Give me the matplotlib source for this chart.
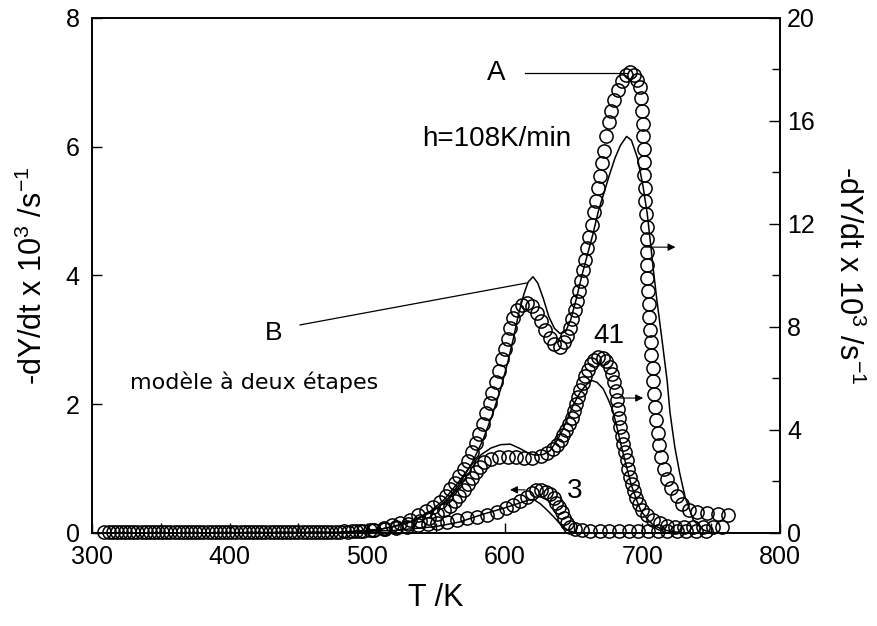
import matplotlib
matplotlib.use('Agg')
import matplotlib.pyplot as plt
from matplotlib.ticker import MultipleLocator

# Curve A, h=108 K/min (right axis) - measured points
a_exp_t = [309, 318, 327, 336, 345, 354, 363, 372, 381, 390, 399, 408, 417, 426, 435,
           444, 453, 462, 471, 480, 489,
           497, 505, 512, 518, 524, 531, 537, 543, 548, 553, 557, 560.5, 564, 567, 570,
           573, 576, 579, 581.5, 584, 586.5, 589, 591, 593.5, 596, 598, 600, 602, 604,
           606, 609, 612.5, 616, 620, 623.5, 626.5, 629, 632.5, 636, 640,
           643, 645.5, 647.5, 649, 651, 652.5, 654, 655.5, 657, 658.5, 660, 661.5, 663,
           664.5, 666, 667.5, 669, 670.5, 672, 673.5, 675.5, 677.5, 679.5, 682, 685, 688,
           691, 694, 696, 698,
           699, 700, 700.5, 700.5, 701, 701, 701.5, 702, 702, 702.5, 703, 703, 703.5,
           703.5, 703.5, 704, 704.5, 705, 705.5, 706, 706.5, 707.5, 708, 708.5, 709, 710,
           711, 712, 713.5, 715.5, 718, 721, 725, 729, 734, 740, 747, 755, 762]
a_exp_y = [0.02, 0.02, 0.02, 0.02, 0.02, 0.02, 0.02, 0.02, 0.02, 0.02, 0.02, 0.02, 0.02,
           0.02, 0.02, 0.02, 0.02, 0.03, 0.03, 0.04, 0.06,
           0.08, 0.13, 0.2, 0.3, 0.4, 0.52, 0.68, 0.85, 1.02, 1.2, 1.45, 1.7, 1.95, 2.2,
           2.48, 2.8, 3.15, 3.5, 3.85, 4.25, 4.65, 5.05, 5.45, 5.85, 6.3, 6.75, 7.15, 7.55,
           7.95, 8.35, 8.65, 8.85, 8.93, 8.8, 8.55, 8.25, 7.9, 7.58, 7.32, 7.22,
           7.4, 7.65, 7.95, 8.3, 8.66, 9.0, 9.4, 9.8, 10.2, 10.6, 11.05, 11.5, 11.95,
           12.45, 12.9, 13.4, 13.85, 14.35, 14.85, 15.4, 15.95, 16.4, 16.8, 17.2, 17.55,
           17.8, 17.9, 17.8, 17.6, 17.3,
           16.9, 16.4, 15.9, 15.4, 14.9, 14.4, 13.9, 13.4, 12.9, 12.4, 11.9, 11.4, 10.9,
           10.4, 9.9, 9.4, 8.9, 8.4, 7.9, 7.4, 6.9, 6.4, 5.9, 5.4, 4.9, 4.4, 3.9, 3.4,
           2.95, 2.5, 2.1, 1.75, 1.42, 1.12, 0.9, 0.8, 0.78, 0.74, 0.7]

# Curve A - two-step model
a_mod_t = [310, 480, 505, 520, 535, 548, 558, 567, 576, 584, 591, 597, 602, 606, 610,
           614, 617, 620.5, 624, 628, 632, 636, 640, 644, 648, 652, 656, 660, 664, 668,
           672, 676, 680, 684, 688.5, 692, 696.5, 700.5, 703.5, 706, 708, 710.5, 714, 718,
           720, 723.5, 727, 731, 737, 744, 750, 760]
a_mod_y = [0, 0.02, 0.1, 0.25, 0.5, 0.85, 1.3, 1.9, 2.7, 3.6, 4.6, 5.6, 6.6, 7.5, 8.5,
           9.3, 9.75, 9.95, 9.7, 9.1, 8.4, 7.95, 7.75, 7.8, 8.3, 9.1, 10.0, 10.8, 11.6,
           12.5, 13.2, 13.9, 14.55, 15.05, 15.4, 15.25, 14.55, 13.45, 12.4, 11.2, 10.2,
           9.05, 7.6, 5.9, 4.7, 3.35, 2.35, 1.4, 0.5, 0.12, 0.02, 0]

# Curve 41 (right axis) - measured points
c41_exp_t = [312, 321, 330, 339, 348, 357, 366, 375, 384, 393, 402, 411, 420, 429, 438,
             447, 456, 465, 474, 483, 492,
             502, 512, 521, 530, 538, 545, 551, 556, 560, 563.5, 567, 570, 573, 576, 579,
             582, 585, 590, 596, 602, 608, 614, 620, 626, 631, 635, 638, 640.5, 642.5,
             644.5, 646.5, 648.5, 650.5, 652, 653.5, 655, 656.5, 658.5, 660.5, 662.5, 665,
             668, 671, 673.8, 676.2, 678, 679.5, 680.6, 681.5, 682.3, 683.1, 684, 685,
             686.2, 687.3, 688.5, 689.7, 690.9, 692.2, 693.6, 695.2, 697.2, 700, 703.5,
             707.5, 712.5, 718, 724, 730.5, 737, 744, 751, 758]
c41_exp_y = [0.02, 0.02, 0.02, 0.02, 0.02, 0.02, 0.02, 0.02, 0.02, 0.02, 0.02, 0.02,
             0.02, 0.02, 0.02, 0.02, 0.02, 0.03, 0.04, 0.06, 0.08,
             0.11, 0.17, 0.25, 0.35, 0.47, 0.6, 0.74, 0.88, 1.05, 1.25, 1.45, 1.67, 1.9,
             2.15, 2.38, 2.58, 2.74, 2.88, 2.94, 2.95, 2.95, 2.93, 2.93, 3.0, 3.11, 3.26,
             3.42, 3.6, 3.8, 4.0, 4.22, 4.46, 4.72, 5.0, 5.28, 5.55, 5.82, 6.08, 6.33,
             6.55, 6.72, 6.83, 6.8, 6.66, 6.45, 6.18, 5.85, 5.5, 5.15, 4.8, 4.46, 4.12,
             3.78, 3.45, 3.14, 2.82, 2.5, 2.19, 1.9, 1.62, 1.36, 1.12, 0.88, 0.68, 0.52,
             0.38, 0.29, 0.25, 0.23, 0.22, 0.22, 0.22, 0.22]

# Curve 41 - two-step model
c41_mod_t = [310, 480, 510, 530, 545, 556, 566, 575, 583, 590, 597, 604, 611, 617, 622,
             628, 633, 638, 642, 646, 650, 654.7, 659, 663.5, 667, 671.5, 675, 678.5,
             681.5, 685, 688.8, 692, 696, 699, 703.4, 708, 713, 720, 730, 745]
c41_mod_y = [0, 0.02, 0.15, 0.4, 0.8, 1.3, 1.95, 2.6, 3.05, 3.3, 3.43, 3.45, 3.28, 3.1,
             3.02, 3.05, 3.2, 3.6, 4.0, 4.5, 5.0, 5.45, 5.75, 5.92, 5.85, 5.6, 5.2, 4.75,
             4.1, 3.3, 2.5, 1.85, 1.25, 0.85, 0.55, 0.3, 0.18, 0.06, 0.01, 0]

# Curve 3 (left axis) - measured points
c3_exp_t = [315, 324, 333, 342, 351, 360, 369, 378, 387, 396, 405, 414, 423, 432, 441,
            450, 459, 468, 477, 486,
            495, 504, 513, 521, 529, 537, 544, 551, 558, 565, 572.5, 580, 587, 594, 601,
            606, 611, 616, 619.5, 623, 626.5, 630, 633, 635.5, 637.5, 639.5, 641.3, 643,
            645, 647.5, 651, 656, 662, 669, 676, 683, 690, 697, 704, 711, 718, 725, 732,
            739, 746]
c3_exp_y = [0.01, 0.01, 0.01, 0.01, 0.01, 0.01, 0.01, 0.01, 0.01, 0.01, 0.01, 0.01,
            0.01, 0.01, 0.01, 0.01, 0.015, 0.015, 0.02, 0.02,
            0.03, 0.045, 0.06, 0.08, 0.1, 0.12, 0.14, 0.16, 0.175, 0.2, 0.225, 0.25, 0.28,
            0.33, 0.39, 0.44, 0.5, 0.56, 0.62, 0.66, 0.67, 0.64, 0.6, 0.54, 0.47, 0.4,
            0.32, 0.24, 0.16, 0.1, 0.06, 0.04, 0.035, 0.03, 0.03, 0.03, 0.03, 0.03, 0.03,
            0.03, 0.03, 0.03, 0.03, 0.03, 0.03]

# Curve 3 - two-step model
c3_mod_t = [310, 480, 520, 550, 567, 584, 600, 610, 617, 621, 626, 631, 636, 641, 646,
            652, 700, 750]
c3_mod_y = [0, 0.01, 0.04, 0.1, 0.17, 0.29, 0.39, 0.46, 0.51, 0.52, 0.45, 0.35, 0.24,
            0.12, 0.04, 0, 0, 0]

Y_LABEL = r'-dY/dt x 10$^3$ /s$^{-1}$'


def main():
	plt.rcParams['font.family'] = ['Liberation Sans', 'DejaVu Sans']
	plt.rcParams['mathtext.default'] = 'regular'
	fig = plt.figure(figsize=(8.78, 6.26), dpi=100)
	ax = fig.add_axes([0.1048, 0.1486, 0.7836, 0.8227])
	ax2 = ax.twinx()
	SetupAxes(ax, ax2)
	DoCurves(ax, ax2)
	DoNotes(ax, ax2)
	fig.savefig('out.png', dpi=100)


def SetupAxes(ax, ax2):
	ax.set_xlim(300, 800)
	ax.set_ylim(0, 8)
	ax2.set_ylim(0, 20)
	ax.xaxis.set_major_locator(MultipleLocator(100))
	ax.xaxis.set_minor_locator(MultipleLocator(50))
	ax.yaxis.set_major_locator(MultipleLocator(2))
	ax2.yaxis.set_major_locator(MultipleLocator(4))
	ax2.yaxis.set_minor_locator(MultipleLocator(2))
	ax.tick_params(axis='x', which='both', direction='in', length=7, width=1,
	               top=False, labelsize=18, pad=9)
	ax.tick_params(axis='y', which='both', direction='in', length=7, width=1,
	               right=False, labelsize=18, pad=9)
	ax2.tick_params(axis='y', which='major', direction='in', length=8, width=1,
	                labelsize=18, pad=5)
	ax2.tick_params(axis='y', which='minor', direction='in', length=6, width=1)
	for a in (ax, ax2):
		for s in a.spines.values():
			s.set_linewidth(1.2)
	ax.set_xlabel('T /K', fontsize=22, labelpad=10)
	ax.set_ylabel(Y_LABEL, fontsize=22, labelpad=12)
	ax2.set_ylabel(Y_LABEL, fontsize=22, rotation=270, va='bottom', labelpad=12)


def DoCurves(ax, ax2):
	circles = dict(ls='none', marker='o', ms=9.5, mfc='none', mec='k', mew=1.1,
	               clip_on=False)
	model = dict(color='k', lw=1.1)
	ax.plot(c3_exp_t, c3_exp_y, **circles)
	ax.plot(c3_mod_t, c3_mod_y, **model)
	ax2.plot(c41_exp_t, c41_exp_y, **circles)
	ax2.plot(c41_mod_t, c41_mod_y, **model)
	ax2.plot(a_exp_t, a_exp_y, **circles)
	ax2.plot(a_mod_t, a_mod_y, **model)


def DoNotes(ax, ax2):
	arrow = dict(arrowstyle='-|>', color='k', lw=0.8, mutation_scale=11,
	             shrinkA=0, shrinkB=0)
	# which axis each curve belongs to
	ax2.annotate('', xy=(724, 11.1), xytext=(702, 11.1), arrowprops=arrow)
	ax2.annotate('', xy=(700.5, 5.24), xytext=(683.7, 5.24), arrowprops=arrow)
	ax.annotate('', xy=(603.8, 0.67), xytext=(614.7, 0.67), arrowprops=arrow)
	# pointer lines for A and B
	ax2.plot([614.7, 688.6], [17.86, 17.86], color='k', lw=0.9)
	ax2.plot([451.2, 616.1], [8.08, 9.71], color='k', lw=0.9)
	ax2.text(593.6, 17.86, 'A', fontsize=20, ha='center', va='center')
	ax2.text(539.8, 15.3, 'h=108K/min', fontsize=20, ha='left', va='center')
	ax2.text(432.3, 7.77, 'B', fontsize=19, ha='center', va='center')
	ax2.text(675.7, 7.65, '41', fontsize=20, ha='center', va='center')
	ax.text(651, 0.65, '3', fontsize=20, ha='center', va='center')
	ax2.text(327.6, 5.86, 'modèle à deux étapes', fontsize=16, ha='left',
	         va='center', family='DejaVu Sans')


if __name__ == '__main__':
	main()
